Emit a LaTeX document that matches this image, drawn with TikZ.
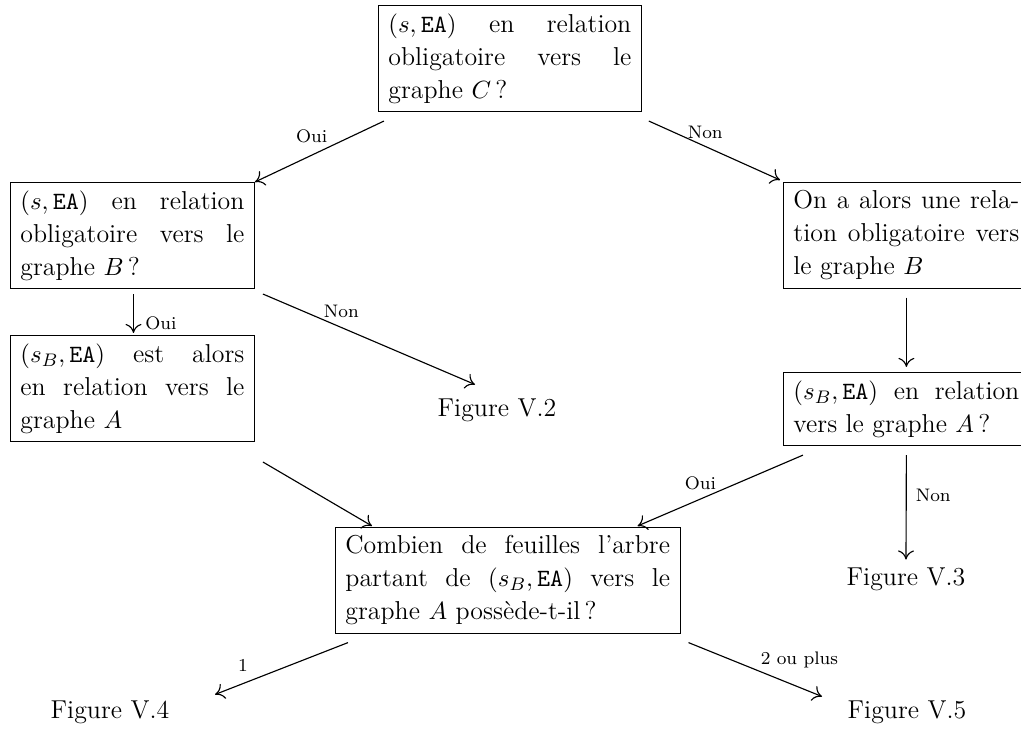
\documentclass[tikz,border=0pt]{standalone}
\usetikzlibrary{arrows.meta}
\begin{document}
\begin{tikzpicture}[x=0.4405pt,y=-0.4405pt,
  box/.style={draw, anchor=north west, align=justify, inner xsep=4.4pt, inner ysep=3.6pt,
    font=\fontsize{11.4}{14.5}\selectfont},
  fig/.style={inner sep=2pt, font=\fontsize{11.4}{14}\selectfont},
  arr/.style={-{To[length=4pt,width=7pt]}, line width=0.5pt},
  lab/.style={font=\footnotesize, inner sep=1pt}]
\useasboundingbox (0,0) rectangle (1021,734);

% decision boxes
\node[box, text width=107pt] (C) at (378,5)
  {$(s,\mathtt{EA})$ en relation\linebreak obligatoire vers le\linebreak graphe $C$\,?};
\node[box, text width=98.7pt] (B) at (10,182)
  {$(s,\mathtt{EA})$ en relation\linebreak obligatoire vers le\linebreak graphe $B$\,?};
\node[box, text width=99.5pt] (R) at (783,182)
  {On a alors une rela-\linebreak tion obligatoire vers\linebreak le graphe $B$};
\node[box, text width=98.7pt] (SBL) at (10,335)
  {$(s_B,\mathtt{EA})$ est alors\linebreak en relation vers le\linebreak graphe $A$};
\node[box, text width=99.5pt] (SBR) at (783,372)
  {$(s_B,\mathtt{EA})$ en relation\linebreak vers le graphe $A$\,?};
\node[box, text width=143pt] (BOT) at (335,527)
  {Combien de feuilles l'arbre\linebreak partant de $(s_B,\mathtt{EA})$ vers le\linebreak graphe $A$ possède-t-il\,?};

% outcomes
\node[fig] (V2) at (497,410) {Figure V.2};
\node[fig] (V3) at (906,579) {Figure V.3};
\node[fig] (V4) at (110,712) {Figure V.4};
\node[fig] (V5) at (907,712) {Figure V.5};

% connectors
\draw[arr] ([shift={(6,9)}]C.south west) -- (B.north east)
  node[lab, pos=.56, above=4pt] {Oui};
\draw[arr] ([shift={(7,9)}]C.south east) -- ([shift={(-3,-2)}]R.north west)
  node[lab, pos=.43, above=2pt] {Non};
\draw[arr] ([shift={(1,5)}]B.south) -- ([shift={(1,-2)}]SBL.north)
  node[lab, pos=.75, right=4pt] {Oui};
\draw[arr] ([shift={(8,5)}]B.south east) -- ([shift={(-22,-9)}]V2.north)
  node[lab, pos=.37, above=3pt] {Non};
\draw[arr] ([shift={(0,9)}]R.south) -- ([shift={(0,-5)}]SBR.north);
\draw[arr] ([shift={(20,9)}]SBR.south west) -- ([shift={(-43,-1)}]BOT.north east)
  node[lab, pos=.62, above=3pt] {Oui};
\draw[arr] ([shift={(0,9)}]SBR.south) -- ([shift={(0,-3)}]V3.north)
  node[lab, pos=.39, right=3pt] {Non};
\draw[arr] ([shift={(8,20)}]SBL.south east) -- ([shift={(37,-1)}]BOT.north west);
\draw[arr] ([shift={(13,9)}]BOT.south west) -- ([shift={(105,-1)}]V4.north)
  node[lab, pos=.79, above=4pt] {1};
\draw[arr] ([shift={(8,9)}]BOT.south east) -- ([shift={(-85,1)}]V5.north)
  node[lab, pos=.52, anchor=south west] {2 ou plus};
\end{tikzpicture}
\end{document}
